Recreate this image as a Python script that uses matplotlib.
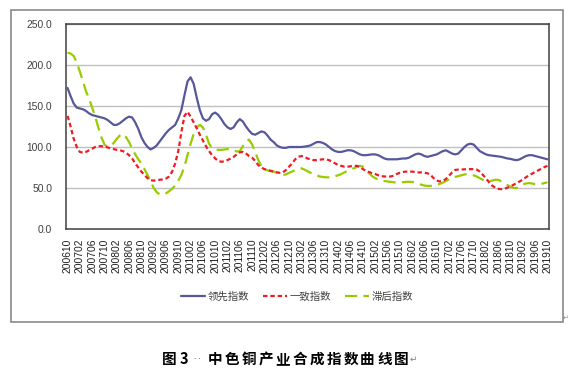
import numpy as np
import pandas as pd
import matplotlib
matplotlib.use("Agg")
import matplotlib.pyplot as plt
from matplotlib.patches import Rectangle

# ---------------- data (monthly, 2006-10 .. 2019-10) ----------------
months = [p.strftime("%Y%m") for p in pd.period_range("2006-10", "2019-10", freq="M")]

leading = [172, 162, 153, 148, 147, 146, 144, 141, 139, 138, 137, 136, 135, 133, 130, 127,
           127, 129, 132, 135, 137, 136, 130, 122, 112, 105, 100, 97, 99, 102, 107, 112,
           117, 121, 124, 127, 135, 145, 163, 180, 185, 177, 160, 145, 135, 132, 134, 140,
           142, 139, 134, 128, 124, 122, 124, 130, 134, 131, 125, 120, 116, 115, 117, 119,
           118, 114, 109, 106, 102, 100, 99, 99, 100, 100, 100, 100, 100, 100.5, 101, 102,
           104, 106, 106, 105, 103, 100, 97, 95, 94, 94, 95, 96, 96, 95, 93, 91,
           90, 90, 90.5, 91, 91, 90, 88, 86, 85, 85, 85, 85, 85.5, 86, 86, 87,
           89, 91, 92, 91, 89, 88, 89, 90, 91, 93, 95, 96, 94, 92, 91, 92,
           96, 100, 103, 104, 103, 99, 95, 93, 91, 90, 89.5, 89, 88.5, 88, 87, 86,
           85.5, 84.5, 84, 85, 87, 89, 90, 90, 89, 88, 87, 86, 85]

coincident = [138, 125, 110, 100, 94, 93, 94, 96, 98, 100, 101, 101, 100.5, 99.5, 98.5, 97.5,
              96.5, 96, 95, 93, 90, 86, 80, 75, 70, 66, 62, 59.5, 59, 59.5, 60, 60.5,
              61.5, 64, 70, 80, 95, 118, 138, 143, 137, 130, 123, 115, 108, 101, 95, 90,
              86, 83, 82, 82.5, 84, 86, 88, 91, 93.5, 94, 92, 89, 87, 83, 78, 75,
              73, 72, 71, 70, 69, 68.5, 69, 72, 76, 80, 85, 88, 89, 88, 86, 85,
              84, 84, 84.5, 85, 85, 84, 82, 80, 78, 77, 76, 76, 76.5, 77, 77, 76,
              73, 71, 69.5, 68, 67, 65.5, 64.5, 64, 64, 64, 65, 67, 68.5, 69.5, 70, 70,
              70, 69.5, 69, 69, 68.5, 68, 66, 62, 59, 58, 58.5, 61, 65, 69, 72, 72.5,
              72.5, 72.8, 73, 73, 73, 72.5, 70, 66, 62, 57, 53, 50.5, 49, 48.5, 49, 50.5,
              52, 54, 56, 58, 60.5, 63, 65.5, 67.5, 69.5, 71.5, 73.5, 75.5, 77]

lagging = [215, 214, 211, 203, 192, 180, 168, 159, 148, 137, 124, 112, 103, 100, 101, 105,
           110, 114, 116, 112, 106, 98, 91, 85, 80, 73, 66, 58, 50, 45, 42, 42.5,
           43.5, 46, 49, 53, 59, 66, 76, 90, 104, 116, 124, 127, 124, 115, 104, 99,
           97, 96.5, 96.5, 97, 97.5, 97, 96, 94.5, 95, 101, 107, 109, 103, 94, 84, 77,
           73, 71.5, 70.5, 70, 69, 67.5, 66, 66.5, 68.5, 70, 72, 73.5, 74, 72.5, 70.5, 68.5,
           67, 65.5, 64, 63.5, 63, 63, 63.5, 64.5, 65.5, 67, 69, 71, 72.5, 74, 75.5, 77,
           76, 72, 68, 64.5, 62, 60.5, 59.5, 58.5, 58, 57.5, 57, 56.5, 56.5, 57, 57.5, 57.5,
           57.5, 56.5, 55, 54, 53, 52.5, 52.5, 53, 54, 55, 56.5, 58.5, 60.5, 62, 63.5, 64.5,
           65.5, 66.5, 67, 66.5, 65.5, 64, 62, 60, 58, 58, 59, 60, 60, 58, 55.5, 53.5,
           51.5, 50, 50, 52, 54.5, 55.5, 56, 55.5, 54.5, 54.5, 55, 56, 57]

tick_labels = ["200610", "200702", "200706", "200710", "200802", "200806", "200810", "200902",
               "200906", "200910", "201002", "201006", "201010", "201102", "201106", "201110",
               "201202", "201206", "201210", "201302", "201306", "201310", "201402", "201406",
               "201410", "201502", "201506", "201510", "201602", "201606", "201610", "201702",
               "201706", "201710", "201802", "201806", "201810", "201902", "201906", "201910"]

series_names = ["领先指数", "一致指数", "滞后指数"]
y_ticks = [0, 50, 100, 150, 200, 250]

# ---------------- figure ----------------
W, H = 574, 378
fig = plt.figure(figsize=(W / 100, H / 100), dpi=100)
fig.patch.set_facecolor("white")

def fx(px):
    return px / W

def fy(py):
    return 1 - py / H

# outer chart frame
fig.patches.append(Rectangle((fx(11), fy(322)), fx(563) - fx(11), fy(10) - fy(322),
                             transform=fig.transFigure, fill=False,
                             edgecolor="#8a8a8a", linewidth=1.2, zorder=0))

ax = fig.add_axes([fx(66), fy(229), fx(549) - fx(66), fy(24) - fy(229)])
x = np.arange(len(months))

ax.plot(x, leading, color="#56589a", linewidth=1.6, solid_capstyle="round",
        label=series_names[0], zorder=4)
ax.plot(x, coincident, color="#ee1c25", linewidth=1.6, linestyle=(0, (2.0, 1.3)),
        label=series_names[1], zorder=3)
ax.plot(x, lagging, color="#99cc00", linewidth=1.6, linestyle=(0, (5.5, 2.8)),
        label=series_names[2], zorder=2)

ax.set_xlim(-0.5, len(months) - 0.5)
ax.set_ylim(0, 250)
ax.set_yticks(y_ticks)
ax.set_yticklabels([f"{v:.1f}" for v in y_ticks], fontsize=7.4,
                   family="Liberation Sans", color="#404040")
ax.set_xticks(x[::4])
ax.set_xticklabels(tick_labels, rotation=90, fontsize=7.4,
                   family="Liberation Sans", color="#202020")
ax.tick_params(axis="both", length=0)
ax.tick_params(axis="x", pad=7)
ax.tick_params(axis="y", pad=10)
ax.grid(axis="y", color="#c0c0c0", linewidth=1.0)
ax.set_axisbelow(True)
for s in ax.spines.values():
    s.set_color("#404040")
    s.set_linewidth(1.1)

leg = fig.legend(loc="center", bbox_to_anchor=(fx(297), fy(297)), ncol=3, frameon=False,
                 prop={"family": ["Noto Sans CJK SC", "DejaVu Sans"], "size": 7.5},
                 handlelength=2.3, handletextpad=0.3, columnspacing=1.3)
for t in leg.get_texts():
    t.set_color("#404040")

# small paragraph mark at frame corner
fig.text(fx(566), fy(318), "↵", fontsize=5, color="#909090",
         family=["DejaVu Sans"], ha="center", va="center")

# caption
cap_font = ["Noto Sans CJK SC", "DejaVu Sans"]
caption_chars = [("图", 169.5), ("3", 183.5)]
rest = "中色铜产业合成指数曲线图"
for k, ch in enumerate(rest):
    caption_chars.append((ch, 215 + k * 16.95))
for ch, cx in caption_chars:
    fig.text(fx(cx), fy(359), ch, fontsize=10.5, fontweight="bold", family=cap_font,
             ha="center", va="center", color="black")
fig.text(fx(197), fy(359), "· ·", fontsize=5, color="#404040", family=["DejaVu Sans"],
         ha="center", va="center")
fig.text(fx(413), fy(359), "↵", fontsize=6.5, color="#808080", family=["DejaVu Sans"],
         ha="center", va="center")

fig.savefig("out.png", dpi=100, facecolor="white")
